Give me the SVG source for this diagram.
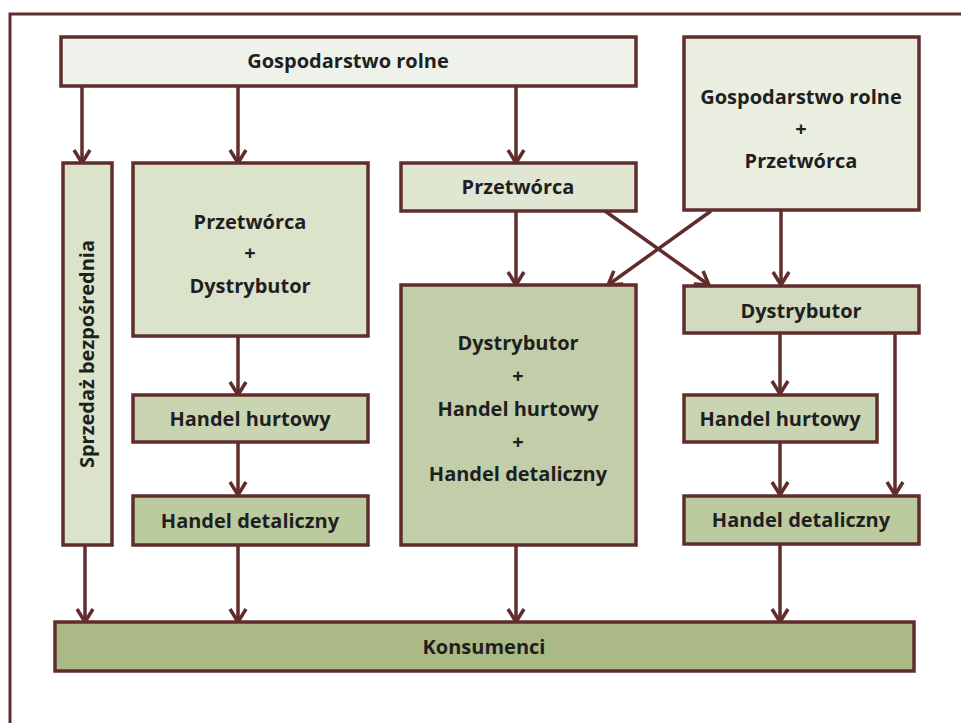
<svg xmlns="http://www.w3.org/2000/svg" width="961" height="723" viewBox="0 0 961 723">
<defs>
<style>
.n{stroke:#612c2c;stroke-width:3.5}
.t{font-family:"Open Sans","Liberation Sans",sans-serif;font-weight:bold;font-size:20px;fill:#1f1f1f;text-anchor:middle}
.c{fill:none;stroke:#612c2c;stroke-width:3.5}
</style>
<marker id="ah" viewBox="0 0 20 20" refX="17" refY="10" markerWidth="20" markerHeight="20" markerUnits="userSpaceOnUse" orient="auto">
<path d="M4 2 L17 10 L4 18" fill="none" stroke="#612c2c" stroke-width="3.5"/>
</marker>
</defs>
<rect x="0" y="0" width="961" height="723" fill="#ffffff"/>
<rect x="10" y="14" width="1000" height="800" fill="none" stroke="#612c2c" stroke-width="3"/>
<g id="connectors" class="c" marker-end="url(#ah)">
<path d="M82 86 V163"/>
<path d="M238 86 V163"/>
<path d="M516 86 V163"/>
<path d="M516 211 V285"/>
<path d="M605 211 L709 285"/>
<path d="M711 211 L608 285"/>
<path d="M781 210 V285"/>
<path d="M238 336 V395"/>
<path d="M238 442 V495"/>
<path d="M238 545 V622"/>
<path d="M85 545 V622"/>
<path d="M516 545 V622"/>
<path d="M780 333 V394"/>
<path d="M895 333 V495"/>
<path d="M780 442 V495"/>
<path d="M780 544 V622"/>
</g>
<g id="gospodarstwo"><rect class="n" x="61" y="37" width="575" height="49" fill="#eff2ea"/><text class="t" x="348" y="68">Gospodarstwo rolne</text></g>
<g id="gosp-przetworca"><rect class="n" x="684" y="37" width="235" height="173" fill="#e9eee0"/><text class="t" x="801" y="104">Gospodarstwo rolne</text><text class="t" x="801" y="136">+</text><text class="t" x="801" y="168">Przetwórca</text></g>
<g id="sprzedaz"><rect class="n" x="63" y="163" width="49" height="382" fill="#dce3cb"/><text class="t" transform="translate(94,354) rotate(-90)">Sprzedaż bezpośrednia</text></g>
<g id="przetworca-dystrybutor"><rect class="n" x="133" y="163" width="235" height="173" fill="#dce3cb"/><text class="t" x="250" y="229">Przetwórca</text><text class="t" x="250" y="260">+</text><text class="t" x="250" y="293">Dystrybutor</text></g>
<g id="hurt-left"><rect class="n" x="133" y="395" width="235" height="47" fill="#c9d4b3"/><text class="t" x="250" y="426">Handel hurtowy</text></g>
<g id="detal-left"><rect class="n" x="133" y="496" width="235" height="49" fill="#bccaa0"/><text class="t" x="250" y="528">Handel detaliczny</text></g>
<g id="przetworca"><rect class="n" x="401" y="163" width="235" height="48" fill="#dfe6d2"/><text class="t" x="518" y="194">Przetwórca</text></g>
<g id="dystr-hurt-detal"><rect class="n" x="401" y="285" width="235" height="260" fill="#c2ceaa"/><text class="t" x="518" y="350">Dystrybutor</text><text class="t" x="518" y="383">+</text><text class="t" x="518" y="416">Handel hurtowy</text><text class="t" x="518" y="449">+</text><text class="t" x="518" y="481">Handel detaliczny</text></g>
<g id="dystrybutor"><rect class="n" x="684" y="286" width="235" height="47" fill="#d2dbc0"/><text class="t" x="801" y="318">Dystrybutor</text></g>
<g id="hurt-right"><rect class="n" x="684" y="395" width="193" height="47" fill="#c9d4b3"/><text class="t" x="780" y="426">Handel hurtowy</text></g>
<g id="detal-right"><rect class="n" x="684" y="496" width="235" height="48" fill="#bccaa0"/><text class="t" x="801" y="527">Handel detaliczny</text></g>
<g id="konsumenci"><rect class="n" x="55" y="622" width="859" height="49" fill="#abb986"/><text class="t" x="484" y="654">Konsumenci</text></g>
</svg>
